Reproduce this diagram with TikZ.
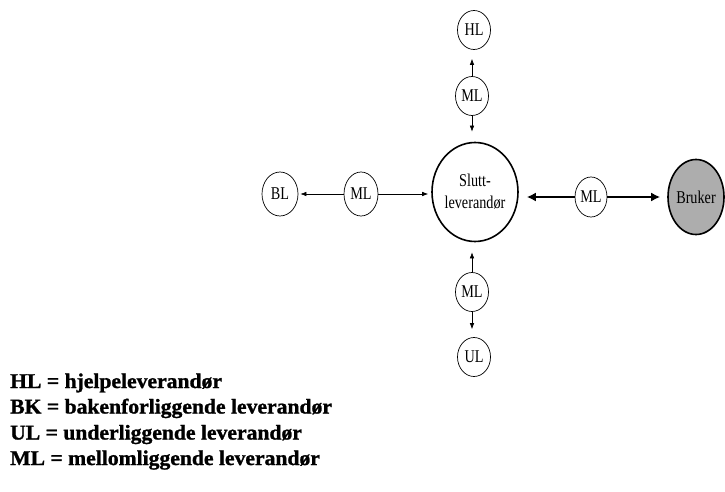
\documentclass[tikz,border=0pt]{standalone}
\usepackage{fontspec}
\setmainfont{Liberation Serif}
\newfontfamily\nodefont[FakeStretch=0.79]{Liberation Serif}
\newfontfamily\legendfont[FakeStretch=1.03,FakeBold=1.2]{Liberation Serif Bold}
\usetikzlibrary{shapes.geometric,arrows.meta}
\tikzset{
  party/.style={ellipse, draw, line width=0.7pt, inner sep=0pt,
    font=\nodefont\fontsize{18}{22}\selectfont},
  smallparty/.style={party, minimum width=33pt, minimum height=39pt},
  thinlink/.style={line width=0.6pt, -{Latex[length=6pt,width=4.5pt]}},
  thicklink/.style={line width=2.6pt, -{Latex[length=9pt,width=9pt]}},
  legendline/.style={anchor=base west, inner sep=0pt,
    font=\legendfont\fontsize{21}{24}\selectfont}
}
\begin{document}
\begin{tikzpicture}[x=1pt, y=-1pt]
\useasboundingbox (0,0) rectangle (725,492);

% central supplier and end user
\node[party, line width=1.6pt, minimum width=82pt, minimum height=99pt, align=center] (slutt) at (475,192) {Slutt-\\leverandør};
\node[party, line width=1.6pt, fill=black!32, minimum width=56pt, minimum height=75pt] (bruker) at (696,197) {Bruker};

% surrounding suppliers
\node[smallparty] (hl) at (474,30) {HL};
\node[smallparty] (mltop) at (472,96) {ML};
\node[smallparty, minimum width=36pt, minimum height=44pt] (bl) at (280,194) {BL};
\node[smallparty, minimum width=34pt, minimum height=44pt] (mlleft) at (361,194) {ML};
\node[smallparty, minimum width=32pt, minimum height=40pt] (mlright) at (591,197) {ML};
\node[smallparty] (mlbot) at (472,292) {ML};
\node[smallparty] (ul) at (474,357) {UL};

% connectors
\draw[thinlink, shorten >=9pt] (mltop) -- (mltop |- hl.south);
\draw[thinlink, shorten >=10pt] (mltop) -- (mltop |- slutt.north);
\draw[thinlink, shorten >=2pt] (mlleft) -- (bl);
\draw[thinlink, shorten >=3pt] (mlleft) -- (mlleft -| slutt.west);
\draw[thicklink, shorten >=8pt] (mlright) -- (mlright -| slutt.east);
\draw[thicklink, shorten >=7pt] (mlright) -- (mlright -| bruker.west);
\draw[thinlink, shorten >=10pt] (mlbot) -- (mlbot |- slutt.south);
\draw[thinlink, shorten >=8pt] (mlbot) -- (mlbot |- ul.north);

% legend
\node[legendline] (leg1) at (10,388) {HL = hjelpeleverandør};
\node[legendline] (leg2) at (10,413.5) {BK = bakenforliggende leverandør};
\node[legendline] (leg3) at (10,439.5) {UL = underliggende leverandør};
\node[legendline] (leg4) at (10,465) {ML = mellomliggende leverandør};
\end{tikzpicture}
\end{document}
